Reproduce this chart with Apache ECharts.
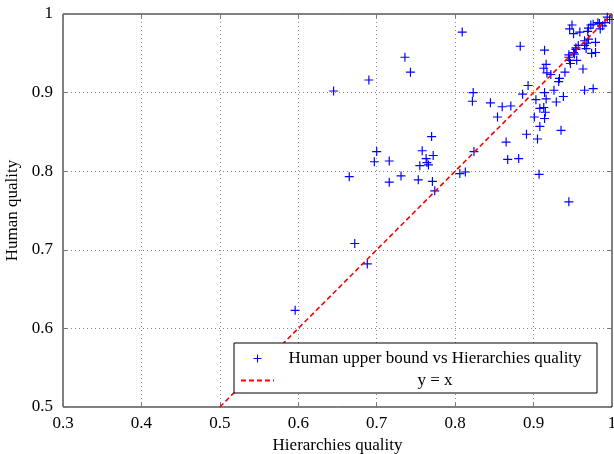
<!DOCTYPE html>
<html>
<head>
<meta charset="utf-8">
<script src="https://cdn.jsdelivr.net/npm/echarts@6/dist/echarts.min.js"></script>
<style>
  html, body { margin: 0; padding: 0; background: #fff; }
  #chart { width: 614px; height: 454px; }
</style>
</head>
<body>
<div id="chart"></div>
<script>
// hierarchies quality (x) and human upper bound (y)
var hierarchiesQuality = [
  0.596, 0.688, 0.672, 0.665, 0.645, 0.690, 0.736, 0.743, 0.770, 0.700,
  0.697, 0.716, 0.758, 0.772, 0.763, 0.764, 0.755, 0.766, 0.731, 0.716,
  0.753, 0.771, 0.774, 0.806, 0.813, 0.824, 0.823, 0.822, 0.809, 0.845,
  0.860, 0.871, 0.854, 0.865, 0.867, 0.881, 0.891, 0.905, 0.908, 0.907,
  0.945, 0.935, 0.901, 0.914, 0.908, 0.913, 0.915, 0.903, 0.929, 0.886,
  0.893, 0.883, 0.914, 0.913, 0.916, 0.914, 0.916, 0.926, 0.932, 0.933,
  0.938, 0.940, 0.945, 0.946, 0.955, 0.951, 0.954, 0.963, 0.965, 0.976,
  0.949, 0.946, 0.951, 0.959, 0.969, 0.973, 0.982, 0.988, 0.991, 0.994,
  0.985, 0.979, 0.968, 0.965, 0.965, 0.967, 0.974, 0.970, 0.976, 0.997,
  0.917, 0.922, 0.947, 0.952, 0.945, 0.957, 0.954, 0.979, 0.984, 0.970
];
var humanQuality = [
  0.623, 0.682, 0.708, 0.793, 0.902, 0.916, 0.945, 0.926, 0.844, 0.825,
  0.812, 0.813, 0.826, 0.820, 0.816, 0.811, 0.807, 0.808, 0.794, 0.786,
  0.789, 0.787, 0.775, 0.797, 0.799, 0.825, 0.900, 0.889, 0.977, 0.887,
  0.882, 0.883, 0.869, 0.837, 0.815, 0.816, 0.847, 0.841, 0.857, 0.796,
  0.761, 0.852, 0.869, 0.867, 0.880, 0.881, 0.875, 0.891, 0.888, 0.898,
  0.909, 0.959, 0.954, 0.931, 0.936, 0.900, 0.892, 0.903, 0.914, 0.918,
  0.895, 0.926, 0.945, 0.941, 0.941, 0.951, 0.955, 0.930, 0.903, 0.905,
  0.986, 0.981, 0.975, 0.977, 0.978, 0.986, 0.989, 0.985, 0.989, 0.996,
  0.981, 0.964, 0.963, 0.966, 0.960, 0.956, 0.950, 0.968, 0.987, 0.993,
  0.925, 0.923, 0.937, 0.949, 0.948, 0.960, 0.957, 0.951, 0.988, 0.982
];
var identityLine = [0.5, 1];
var xTicks = [0.3, 0.4, 0.5, 0.6, 0.7, 0.8, 0.9, 1];
var yTicks = [0.5, 0.6, 0.7, 0.8, 0.9, 1];

var seriesNames = ['Human upper bound vs Hierarchies quality', 'y = x'];

var points = hierarchiesQuality.map(function (x, i) { return [x, humanQuality[i]]; });
var linePoints = identityLine.map(function (v) { return [v, v]; });

var serif = '"Liberation Serif", "DejaVu Serif", serif';
var plus = 'path://M4.35,0 H5.65 V4.35 H10 V5.65 H5.65 V10 H4.35 V5.65 H0 V4.35 H4.35 Z';

function fmt(v) { return String(+v.toFixed(1)); }

var chart = echarts.init(document.getElementById('chart'));

var gridLine = { show: true, lineStyle: { color: '#8a8a8a', type: [1, 3], width: 1 } };
var tick = { show: true, inside: true, length: 4, lineStyle: { color: '#777' } };

var option = {
  animation: false,
  grid: {
    left: 63, right: 2, top: 14, bottom: 47,
    outerBoundsMode: 'none',
    show: true, borderColor: '#000', borderWidth: 1
  },
  xAxis: [{
    type: 'value',
    min: xTicks[0], max: xTicks[xTicks.length - 1], interval: 0.1,
    name: 'Hierarchies quality', nameLocation: 'middle', nameGap: 23,
    nameTextStyle: { fontFamily: serif, fontSize: 17, color: '#000' },
    axisLine: { show: false },
    axisTick: tick,
    splitLine: gridLine,
    axisLabel: { fontFamily: serif, fontSize: 17, color: '#000', margin: 8, formatter: fmt }
  }, {
    type: 'value', position: 'top',
    min: xTicks[0], max: xTicks[xTicks.length - 1], interval: 0.1,
    axisLine: { show: false }, axisTick: tick,
    axisLabel: { show: false }, splitLine: { show: false }
  }],
  yAxis: [{
    type: 'value',
    min: yTicks[0], max: yTicks[yTicks.length - 1], interval: 0.1,
    name: 'Human quality', nameLocation: 'middle', nameGap: 39,
    nameTextStyle: { fontFamily: serif, fontSize: 17, color: '#000' },
    axisLine: { show: false },
    axisTick: tick,
    splitLine: gridLine,
    axisLabel: { fontFamily: serif, fontSize: 17, color: '#000', margin: 10, formatter: fmt }
  }, {
    type: 'value', position: 'right',
    min: yTicks[0], max: yTicks[yTicks.length - 1], interval: 0.1,
    axisLine: { show: false }, axisTick: tick,
    axisLabel: { show: false }, splitLine: { show: false }
  }],
  legend: {
    orient: 'vertical',
    left: 234, top: 343,
    padding: [7, 6, 4, 6],
    itemGap: 5,
    itemWidth: 33, itemHeight: 8,
    backgroundColor: '#fff',
    borderColor: '#000', borderWidth: 1,
    data: [
      { name: seriesNames[0] },
      { name: seriesNames[1], itemStyle: { color: 'rgba(0,0,0,0)', borderColor: 'rgba(0,0,0,0)', borderWidth: 0 } }
    ],
    formatter: function (name) { return '{t|' + name + '}'; },
    textStyle: {
      fontFamily: serif, fontSize: 17, color: '#000',
      rich: { t: { width: 312, align: 'center', fontFamily: serif, fontSize: 17, lineHeight: 18, color: '#000' } }
    }
  },
  series: [{
    name: seriesNames[0],
    type: 'scatter',
    data: points,
    symbol: plus,
    symbolSize: 9,
    symbolKeepAspect: true,
    itemStyle: { color: '#0000ff', opacity: 1 }
  }, {
    name: seriesNames[1],
    type: 'line',
    data: linePoints,
    symbol: 'none',
    lineStyle: { color: '#ff0000', width: 1.6, type: [5, 3] },
    itemStyle: { color: '#ff0000' }
  }]
};

chart.setOption(option);
</script>
</body>
</html>
